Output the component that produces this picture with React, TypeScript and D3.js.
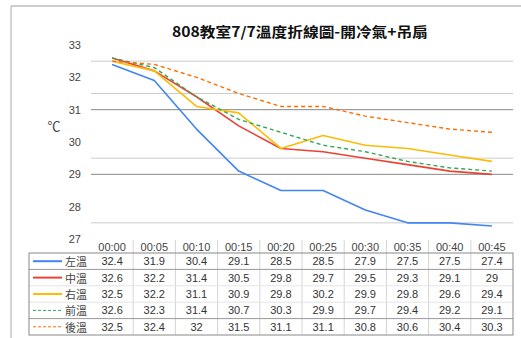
import React from "react";
import * as d3 from "d3";

// Time points (minutes after start)
const times = ["00:00", "00:05", "00:10", "00:15", "00:20", "00:25", "00:30", "00:35", "00:40", "00:45"];

// Temperature readings (°C) at each sensor position
const leftTemp = [32.4, 31.9, 30.4, 29.1, 28.5, 28.5, 27.9, 27.5, 27.5, 27.4];
const midTemp = [32.6, 32.2, 31.4, 30.5, 29.8, 29.7, 29.5, 29.3, 29.1, 29];
const rightTemp = [32.5, 32.2, 31.1, 30.9, 29.8, 30.2, 29.9, 29.8, 29.6, 29.4];
const frontTemp = [32.6, 32.3, 31.4, 30.7, 30.3, 29.9, 29.7, 29.4, 29.2, 29.1];
const backTemp = [32.5, 32.4, 32, 31.5, 31.1, 31.1, 30.8, 30.6, 30.4, 30.3];

const seriesNames = ["左溫", "中溫", "右溫", "前溫", "後溫"];
const yTicks = [27, 28, 29, 30, 31, 32, 33];
const lightGrid = [32.5, 31.5, 29.5, 27.5];
const darkGrid = [31, 29];

const title = "808教室7/7溫度折線圖-開冷氣+吊扇";

type Series = { name: string; values: number[]; color: string; dashed: boolean };

const series: Series[] = [
  { name: seriesNames[0], values: leftTemp, color: "#4285F4", dashed: false },
  { name: seriesNames[1], values: midTemp, color: "#EA4335", dashed: false },
  { name: seriesNames[2], values: rightTemp, color: "#FBBC04", dashed: false },
  { name: seriesNames[3], values: frontTemp, color: "#34A853", dashed: true },
  { name: seriesNames[4], values: backTemp, color: "#FF6D01", dashed: true },
];

const W = 521;
const H = 338;
const plotLeft = 91;
const plotRight = 513;
const plotTop = 45;
const plotBottom = 239;
const tableLeft = 29;
const tableTop = 253;
const rowH = 16.4;
const headerTop = 240;

const FONT = "'Liberation Sans', Arial, 'Noto Sans CJK TC', sans-serif";

export default function App() {
  const x = d3.scaleBand<string>().domain(times).range([plotLeft, plotRight]);
  const y = d3.scaleLinear().domain([27, 33]).range([plotBottom, plotTop]);
  const cx = (t: string) => (x(t) ?? 0) + x.bandwidth() / 2;

  const line = d3
    .line<number>()
    .x((_, i) => cx(times[i]))
    .y((v) => y(v));

  const tableBottom = tableTop + rowH * series.length;
  const colEdges = times.map((t) => x(t) ?? 0).concat([plotRight]);

  return (
    <svg
      width={W}
      height={H}
      style={{ position: "absolute", left: 0, top: 0, background: "#fff" }}
      fontFamily={FONT}
    >
      <rect x={0} y={0} width={W} height={H} fill="#fff" />
      {/* outer frame */}
      <line x1={11} y1={6} x2={W} y2={6} stroke="#999" strokeWidth={1} />
      <line x1={11} y1={6} x2={11} y2={H} stroke="#aaa" strokeWidth={1} />

      {/* title */}
      <text
        x={172}
        y={31}
        fontSize={14}
        fontWeight="bold"
        fill="#111"
        dominantBaseline="central"
        textLength={256}
        lengthAdjust="spacingAndGlyphs"
        fontFamily="'Noto Sans CJK TC', 'Liberation Sans', sans-serif"
      >
        {title}
      </text>

      {/* gridlines */}
      {lightGrid.map((g) => (
        <line key={"l" + g} x1={plotLeft} x2={plotRight} y1={y(g)} y2={y(g)} stroke="#ccc" strokeWidth={1} />
      ))}
      {darkGrid.map((g) => (
        <line key={"d" + g} x1={plotLeft} x2={plotRight} y1={y(g)} y2={y(g)} stroke="#888" strokeWidth={1} />
      ))}

      {/* y-axis labels */}
      {yTicks.map((t) => (
        <text key={t} x={81} y={y(t)} fontSize={11} fill="#444" textAnchor="end" dominantBaseline="central">
          {t}
        </text>
      ))}
      <text x={54} y={125} fontSize={13} fill="#444" textAnchor="middle" dominantBaseline="central"
        fontFamily="'Noto Sans CJK TC', sans-serif">
        ℃
      </text>

      {/* series lines */}
      {series.map((s) => (
        <path
          key={s.name}
          d={line(s.values) ?? ""}
          fill="none"
          stroke={s.color}
          strokeWidth={s.dashed ? 1.4 : 1.6}
          strokeDasharray={s.dashed ? "4,3" : undefined}
          strokeLinejoin="round"
        />
      ))}

      {/* data table header */}
      {times.map((t) => (
        <text key={t} x={cx(t)} y={247} fontSize={11} fill="#444" textAnchor="middle" dominantBaseline="central">
          {t}
        </text>
      ))}

      {/* column separators */}
      {colEdges.slice(1, -1).map((e, i) => (
        <line key={"c" + i} x1={e} x2={e} y1={headerTop} y2={tableBottom} stroke="#d4d4d4" strokeWidth={1} />
      ))}

      {/* row separators and border */}
      {series.slice(1).map((_, i) => (
        <line
          key={"r" + i}
          x1={tableLeft}
          x2={plotRight}
          y1={tableTop + rowH * (i + 1)}
          y2={tableTop + rowH * (i + 1)}
          stroke={i === 0 || i === series.length - 2 ? "#999" : "#e4e4e4"}
          strokeWidth={1}
        />
      ))}
      <rect
        x={tableLeft}
        y={tableTop}
        width={plotRight - tableLeft}
        height={tableBottom - tableTop}
        fill="none"
        stroke="#888"
        strokeWidth={1}
      />

      {/* table rows: legend key + values */}
      {series.map((s, r) => {
        const yc = tableTop + rowH * (r + 0.5);
        return (
          <g key={s.name}>
            <line
              x1={33}
              x2={62}
              y1={yc}
              y2={yc}
              stroke={s.color}
              strokeWidth={s.dashed ? 1 : 2}
              strokeDasharray={s.dashed ? "3,2" : undefined}
            />
            <text x={65} y={yc} fontSize={11} fill="#444" dominantBaseline="central"
              fontFamily="'Noto Sans CJK TC', sans-serif">
              {s.name}
            </text>
            {s.values.map((v, i) => (
              <text
                key={i}
                x={cx(times[i])}
                y={yc}
                fontSize={11}
                fill="#333"
                textAnchor="middle"
                dominantBaseline="central"
              >
                {v}
              </text>
            ))}
          </g>
        );
      })}
    </svg>
  );
}
